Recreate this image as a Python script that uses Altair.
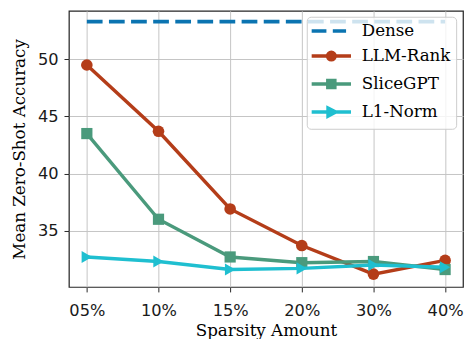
import altair as alt
import pandas as pd

sparsity = ["05%", "10%", "15%", "20%", "30%", "40%"]
series_order = ["Dense", "LLM-Rank", "SliceGPT", "L1-Norm"]
dense = [53.3, 53.3, 53.3, 53.3, 53.3, 53.3]
llm_rank = [49.5, 43.7, 36.9, 33.7, 31.2, 32.4]
slicegpt = [43.5, 36.0, 32.7, 32.2, 32.3, 31.6]
l1_norm = [32.7, 32.3, 31.6, 31.7, 32.0, 31.8]
colors = ["#0b74b1", "#b43d19", "#4a9a7c", "#1fbfd0"]
y_ticks = [35, 40, 45, 50]

values = {"Dense": dense, "LLM-Rank": llm_rank, "SliceGPT": slicegpt, "L1-Norm": l1_norm}
rows = []
for s in series_order:
    for sp, v in zip(sparsity, values[s]):
        rows.append({"sparsity": sp, "series": s, "acc": v})
df = pd.DataFrame(rows)

# legend symbols: line segment + marker (unit = sqrt(symbolSize)/2 = 7.5px)
legend_paths = [
    "M-2.667,0H-0.667M0.2,0H2",
    "M-2.667,0H2.667M0.52,0A0.52,0.52,0,1,1,-0.52,0A0.52,0.52,0,1,1,0.52,0Z",
    "M-2.667,0H2.667M-0.48,-0.48H0.48V0.48H-0.48Z",
    "M-2.667,0H2.667M-0.45,-0.55L0.6,0L-0.45,0.55Z",
]

color_scale = alt.Scale(domain=series_order, range=colors)

x = alt.X(
    "sparsity:O",
    sort=sparsity,
    scale=alt.Scale(type="point", domain=sparsity, padding=0.25),
    axis=alt.Axis(title="Sparsity Amount", labelAngle=0, titlePadding=4, labelPadding=11),
)
y = alt.Y(
    "acc:Q",
    scale=alt.Scale(domain=[30.07, 54.24], nice=False, zero=False),
    axis=alt.Axis(values=y_ticks, title="Mean Zero-Shot Accuracy", titlePadding=9, labelPadding=6),
)

leg = alt.Legend(
    title=None,
    orient="none",
    legendX=242,
    legendY=6,
    labelFont="DejaVu Serif",
    labelFontSize=17,
    labelColor="black",
    symbolSize=225,
    symbolStrokeWidth=3.5,
    symbolOpacity=1,
    symbolOffset=10.5,
    labelOffset=21.5,
    rowPadding=5.5,
    padding=5,
    fillColor="rgba(255,255,255,0.8)",
    strokeColor="#cccccc",
    cornerRadius=4,
)

base = alt.Chart(df)

legend_layer = base.mark_point(filled=True, opacity=0).encode(
    x=x,
    y=y,
    color=alt.Color("series:N", scale=color_scale, legend=leg),
    stroke=alt.Stroke("series:N", scale=color_scale, legend=leg),
    shape=alt.Shape("series:N", scale=alt.Scale(domain=series_order, range=legend_paths), legend=leg),
)

def line_layer(name, **kw):
    return base.transform_filter(alt.datum.series == name).mark_line(**kw).encode(
        x=x, y=y, color=alt.Color("series:N", scale=color_scale, legend=None)
    )

def point_layer(name, shape, size):
    return base.transform_filter(alt.datum.series == name).mark_point(
        filled=True, shape=shape, size=size, opacity=1
    ).encode(x=x, y=y, color=alt.Color("series:N", scale=color_scale, legend=None))

layers = [
    legend_layer,
    line_layer("Dense", strokeWidth=4, strokeDash=[16, 6.5]),
    line_layer("LLM-Rank", strokeWidth=3.5),
    point_layer("LLM-Rank", "circle", 140),
    line_layer("SliceGPT", strokeWidth=3.5),
    point_layer("SliceGPT", "square", 130),
    line_layer("L1-Norm", strokeWidth=3.5),
    point_layer("L1-Norm", "triangle-right", 150),
]

chart = alt.layer(*layers).properties(
    width=401,
    height=281,
    autosize=alt.AutoSizeParams(type="none"),
    padding={"left": 62, "top": 0, "right": 1, "bottom": 50},
).configure_view(
    stroke="#262626", strokeWidth=1.25
).configure_axis(
    grid=True,
    gridColor="#c4c4c4",
    gridWidth=1,
    domain=False,
    tickColor="#262626",
    tickSize=5,
    tickWidth=1,
    labelFont="DejaVu Sans",
    labelFontSize=16.5,
    labelColor="#1a1a1a",
    titleFont="DejaVu Serif",
    titleFontSize=17,
    titleFontWeight="normal",
    titleColor="black",
)

chart.save("out.html", embed_options={"renderer": "svg", "actions": False})
